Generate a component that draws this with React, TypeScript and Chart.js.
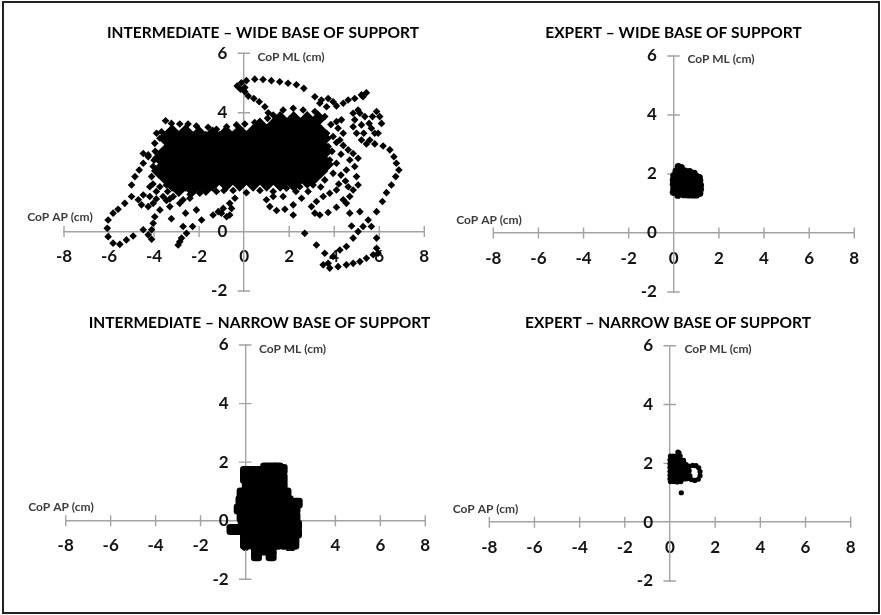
import React, { useEffect, useRef } from "react";
import { Chart, registerables } from "chart.js";

Chart.register(...registerables);

type P = [number, number];

const xTicks = [-8, -6, -4, -2, 0, 2, 4, 6, 8];
const yTicks = [-2, 0, 2, 4, 6];
const xAxisName = "CoP AP (cm)";
const yAxisName = "CoP ML (cm)";

const titles = [
  "INTERMEDIATE – WIDE BASE OF SUPPORT",
  "EXPERT – WIDE BASE OF SUPPORT",
  "INTERMEDIATE – NARROW BASE OF SUPPORT",
  "EXPERT – NARROW BASE OF SUPPORT",
];

// Intermediate, wide: the dense centre of the sway cloud
const intermediateWideCore: P[] = [
  [1.6,3.8],[2.2,3.8],[2.8,3.8],[3.3,3.8],
  [0.7,3.58],[1.3,3.58],[1.9,3.58],[2.5,3.58],[3.1,3.58],
  [-3.2,3.36],[-2.6,3.36],[-2,3.3],[-1.4,3.28],[-0.8,3.32],[-0.2,3.36],[0.4,3.36],[1,3.36],[1.6,3.36],[2.2,3.36],[2.8,3.36],[3.4,3.36],
  [-3.5,3.14],[-2.9,3.14],[-2.3,3.14],[-1.7,3.14],[-1.1,3.14],[-0.5,3.14],[0.1,3.14],[0.7,3.14],[1.3,3.14],[1.9,3.14],[2.5,3.14],[3.1,3.14],[3.55,3.14],
  [-3.2,2.92],[-2.6,2.92],[-2,2.92],[-1.4,2.92],[-0.8,2.92],[-0.2,2.92],[0.4,2.92],[1,2.92],[1.6,2.92],[2.2,2.92],[2.8,2.92],[3.4,2.92],
  [-3.5,2.7],[-2.9,2.7],[-2.3,2.7],[-1.7,2.7],[-1.1,2.7],[-0.5,2.7],[0.1,2.7],[0.7,2.7],[1.3,2.7],[1.9,2.7],[2.5,2.7],[3.1,2.7],[3.6,2.7],
  [-3.75,2.48],[-3.2,2.48],[-2.6,2.48],[-2,2.48],[-1.4,2.48],[-0.8,2.48],[-0.2,2.48],[0.4,2.48],[1,2.48],[1.6,2.48],[2.2,2.48],[2.8,2.48],[3.4,2.48],
  [-3.5,2.26],[-2.9,2.26],[-2.3,2.26],[-1.7,2.26],[-1.1,2.26],[-0.5,2.26],[0.1,2.26],[0.7,2.26],[1.3,2.26],[1.9,2.26],[2.5,2.26],[3.1,2.26],[3.65,2.26],
  [-3.8,2.04],[-3.2,2.04],[-2.6,2.04],[-2,2.04],[-1.4,2.04],[-0.8,2.04],[-0.2,2.04],[0.4,2.04],[1,2.04],[1.6,2.04],[2.2,2.04],[2.8,2.04],[3.4,2.04],
  [-3.5,1.82],[-2.9,1.82],[-2.3,1.82],[-1.7,1.82],[-1.1,1.82],[-0.5,1.82],[0.1,1.82],[0.7,1.82],[1.3,1.82],[1.9,1.82],[2.5,1.82],[3.1,1.82],
  [-3.2,1.6],[-2.6,1.6],[-2,1.6],[-1.4,1.6],[-0.8,1.6],[-0.2,1.6],[0.4,1.6],[1,1.6],[1.6,1.6],[2.2,1.6],[2.8,1.7],
  [-2.9,1.42],[-2.3,1.42],[-1.7,1.45],
];

// Intermediate, wide: separate points and loops around the cloud
const intermediateWideTrail: P[] = [
  [-0.31,4.9],[-0.12,5.01],[0.1,5.08],[0.47,5.13],[0.84,5.12],[1.21,5.08],[1.58,5.04],[1.95,4.99],[2.32,4.94],[2.65,4.82],
  [-0.16,4.79],[0.03,4.71],[0.03,4.85],[0.18,4.56],[0.43,4.48],[0.67,4.37],[0.92,4.2],[1.07,4],[1.04,3.81],
  [5.43,4.67],[5.28,4.54],[5.21,4.6],[4.91,4.48],[4.62,4.43],[4.4,4.32],[4.1,4.23],
  [3.73,4.48],[3.43,4.43],[3.14,4.54],[3.36,4.32],[3.95,4.37],[3.66,4.2],
  [4.1,3.7],[4.32,3.76],[4.17,3.48],[3.95,3.2],[4.25,3.08],[4.4,3.31],[4.62,2.75],[4.84,2.63],[4.69,2.41],[5.06,2.47],[4.91,2.19],[4.54,2.07],
  [5.14,3.98],[4.91,3.76],[4.84,3.53],[4.99,3.31],[5.21,3.08],[5.31,3.31],[5.21,3.59],[5.36,3.87],[5.06,4.09],[4.84,3.98],
  [5.88,4.04],[5.7,3.87],[5.55,3.64],[5.65,3.48],[5.8,3.31],[5.58,3.08],[6.1,3.64],[6.02,3.87],[5.95,3.31],
  [5.43,2.95],[5.8,2.95],[6.17,2.88],[6.47,2.75],[6.65,2.52],[6.76,2.3],[6.87,2.07],[6.73,1.85],[6.54,1.57],[6.32,1.31],[6.14,1.01],[5.88,0.67],[5.51,0.39],[5.65,0.17],[5.88,-0.22],[5.88,-0.56],[5.95,-0.73],
  [5.73,-0.78],[5.43,-0.9],[5.14,-1.01],[4.84,-1.07],[4.54,-1.12],[4.17,-1.18],[3.8,-1.23],[3.51,-1.12],[3.73,-1.07],[3.95,-0.84],[3.58,-0.73],[3.21,-0.45],[4.25,-0.62],[4.54,-0.5],[4.84,-0.22],[5.06,0],[4.77,0.19],[5.28,0.17],[4.69,0.62],[5.14,0.67],[4.54,0.95],[4.69,1.18],[4.84,1.4],[5.06,1.57],[4.62,1.51],[4.99,1.85],
  [3.14,0.62],[2.99,0.84],[3.21,1.01],[3.51,1.18],[3.8,1.29],[4.1,1.4],[3.36,0.56],[3.73,0.64],[4.1,0.82],[4.4,1.07],
  [0.99,1.07],[1.14,0.84],[1.44,0.71],[1.81,0.75],[2.18,0.9],[2.55,1.12],[2.84,1.35],[2.18,0.56],[2.69,-0.06],[1.29,1.18],[1.73,1.18],
  [-6.04,0.39],[-6.08,0.11],[-6.04,-0.17],[-5.82,-0.39],[-5.52,-0.43],[-5.23,-0.28],[-4.93,-0.15],[-4.48,0.06],[-4.26,-0.11],[-4.11,-0.26],[-4.11,0.06],[-4.04,0.28],[-3.97,0.5],
  [-5.82,0.62],[-5.6,0.75],[-5.3,0.95],[-5,1.18],[-5,1.57],[-4.85,1.85],[-4.66,2.07],[-4.48,2.3],[-4.48,2.63],[-4.26,2.52],
  [-4.7,1.07],[-4.56,0.9],[-4.26,0.84],[-4.04,0.95],[-4.19,1.18],[-4.48,1.23],[-3.74,0.73],[-3.3,0.84],[-2.86,0.95],[-2.41,1.12],[-3.45,1.05],[-3.9,1.1],
  [-3.23,0.43],[-2.6,0.62],[-2.12,0.73],[-1.89,0.39],[-1.38,0.56],[-2.71,0.17],[-2.29,0.17],[-2.56,-0.06],[-2.78,-0.22],[-2.93,-0.45],[-2.86,-0.34],
  [-1.15,0.67],[-0.93,0.78],[-0.64,0.56],[-0.78,0.5],[-1.01,0.62],[-0.64,0.95],[-0.41,1.12],[-0.56,0.78],
  [-3.49,3.73],[-3.23,3.64],[-3.89,3.31],[-3.67,3.36],[-2.86,3.62],[-2.49,3.62],[-2.12,3.55],[-1.6,3.51],[-1.23,3.44],[-0.78,3.53],[-0.34,3.59],[0.03,3.62],[0.47,3.67],
  [-4.26,2.58],[-4.04,2.19],[-4.11,1.85],[-4.19,1.51],[-3.97,2.97],[-3.74,3.14],[-3.74,1.51],[-3.45,1.57],[-3.6,1.18],[-3.15,1.18],[-2.71,1.07],
  [-1.97,1.29],[-1.23,1.35],[-0.49,1.38],[0.1,1.31],[0.7,1.38],[1.29,1.35],[1.88,1.46],[2.47,1.51],[3.06,1.57],[3.58,1.74],[3.95,1.96],[3.8,2.41],[3.73,2.86],[3.66,3.31],[3.58,3.87],
  [3.14,4.04],[2.62,4.09],[2.18,4.15],[1.73,4.09],[1.29,3.92],
  [3.9,2.7],[4.1,2.3],[4.3,2.6],[4.1,3.0],[3.85,3.6],[4.4,2.9],[4.3,1.9],[4.5,1.7],[4.2,1.6],
  [-4,2.4],[-4.05,1.6],[-3.9,1.35],[-3.4,1.35],[-3.95,2.7],[-3.3,1.1],[-2.4,1.25],[-0.9,1.38],[2.3,1.35],[3.4,1.5],
];

const expertWide: P[] = [
  [0.2,2.25],[0.33,2.22],
  [0.1,2.1],[0.3,2.1],[0.5,2.1],[0.7,2.08],[0.9,2.02],
  [0,1.95],[0.2,1.95],[0.4,1.95],[0.6,1.95],[0.8,1.95],[1,1.92],[1.13,1.88],
  [-0.02,1.8],[0.18,1.8],[0.38,1.8],[0.58,1.8],[0.78,1.8],[0.98,1.8],[1.15,1.78],
  [-0.02,1.65],[0.18,1.65],[0.38,1.65],[0.58,1.65],[0.78,1.65],[0.98,1.65],[1.18,1.62],
  [0,1.5],[0.2,1.5],[0.4,1.5],[0.6,1.5],[0.8,1.5],[1,1.5],[1.18,1.48],
  [-0.02,1.38],[0.2,1.38],[0.42,1.38],[0.64,1.38],[0.86,1.38],[1.05,1.38],[1.15,1.35],
  [0.18,1.28],[0.45,1.3],[0.65,1.29],[0.85,1.29],[1,1.29],
];

const intermediateNarrow: P[] = [
  [0.9,1.8],[1.2,1.8],[1.45,1.8],[1.63,1.75],
  [0,1.68],[0.3,1.68],[0.6,1.68],[0.9,1.68],
  [0,1.45],[0.35,1.45],[0.7,1.45],[1.05,1.45],[1.4,1.45],[1.63,1.45],
  [0.08,1.18],[0.4,1.2],[0.75,1.2],[1.1,1.2],[1.45,1.2],[1.63,1.2],
  [-0.15,0.95],[0.2,0.95],[0.55,0.95],[0.9,0.95],[1.25,0.95],[1.6,0.95],[1.8,0.95],
  [-0.2,0.68],[0.15,0.68],[0.5,0.68],[0.85,0.68],[1.2,0.68],[1.55,0.68],[1.9,0.68],[2.3,0.6],
  [-0.28,0.4],[0.1,0.4],[0.45,0.4],[0.8,0.4],[1.15,0.4],[1.5,0.4],[1.85,0.4],[2.2,0.4],
  [-0.15,0.12],[0.2,0.12],[0.55,0.12],[0.9,0.12],[1.25,0.12],[1.6,0.12],[1.95,0.12],[2.2,0.12],
  [-0.1,-0.15],[0.25,-0.15],[0.6,-0.15],[0.95,-0.15],[1.3,-0.15],[1.65,-0.15],[2,-0.15],[2.27,-0.15],
  [-0.6,-0.3],[-0.35,-0.3],
  [0,-0.42],[0.35,-0.42],[0.7,-0.42],[1.05,-0.42],[1.4,-0.42],[1.75,-0.42],[2.1,-0.42],[2.27,-0.42],
  [0,-0.62],[0.35,-0.62],[0.7,-0.62],[1.05,-0.62],[1.4,-0.62],[1.75,-0.62],[2.15,-0.62],
  [0,-0.8],[0.35,-0.8],[0.7,-0.8],[1.05,-0.8],[1.4,-0.8],[1.75,-0.8],[2.15,-0.8],
  [0.49,-1],[0.8,-1],[1.14,-1],
  [0.49,-1.2],[1.14,-1.2],
];

const expertNarrow: P[] = [
  [0.35,2.38],[0.4,2.36],
  [0.02,2.25],[0.15,2.25],[0.3,2.25],[0.45,2.25],
  [0,2.12],[0.16,2.12],[0.32,2.12],[0.48,2.12],[0.6,2.1],
  [0,1.99],[0.16,1.99],[0.32,1.99],[0.48,1.99],[0.64,1.99],[0.72,1.96],
  [0,1.86],[0.16,1.86],[0.32,1.86],[0.48,1.86],[0.64,1.86],[0.75,1.86],
  [0,1.73],[0.16,1.73],[0.32,1.73],[0.48,1.73],[0.64,1.73],[0.75,1.73],
  [0,1.6],[0.16,1.6],[0.32,1.6],[0.48,1.6],[0.64,1.6],[0.75,1.6],
  [0,1.47],[0.16,1.47],[0.32,1.47],[0.48,1.47],[0.64,1.47],[0.75,1.48],
  [0.02,1.38],[0.16,1.38],[0.32,1.37],[0.48,1.38],
  [0.85,1.9],[1,1.93],[1.15,1.92],[1.27,1.85],[1.33,1.72],[1.33,1.58],[1.25,1.46],[1.1,1.42],[0.95,1.45],[0.88,1.58],[0.85,1.75],
  [0.5,1],
];

const seriesSets = [
  [
    { data: intermediateWideCore, style: "rectRot", radius: 7.6 },
    { data: intermediateWideTrail, style: "rectRot", radius: 3.8 },
  ],
  [{ data: expertWide, style: "circle", radius: 3.6 }],
  [{ data: intermediateNarrow, style: "rectRounded", radius: 6.4 }],
  [{ data: expertNarrow, style: "circle", radius: 2.6 }],
];

// Pixel layout of each panel on the page
const layouts = [
  { left: 6, top: 10, width: 432, height: 292, xMin: 64, xMax: 424.3, yTop: 53.3, yBottom: 291, titleX: 263, titleY: 33.3, apX: 60, apY: 217, mlX: 291, mlY: 57.3 },
  { left: 440, top: 10, width: 434, height: 292, xMin: 493.3, xMax: 854.3, yTop: 56, yBottom: 292, titleX: 673.5, titleY: 33, apX: 489, apY: 220, mlX: 721, mlY: 59 },
  { left: 6, top: 305, width: 432, height: 292, xMin: 65.7, xMax: 425.3, yTop: 345, yBottom: 579.3, titleX: 259.5, titleY: 323, apX: 61, apY: 507, mlX: 292.5, mlY: 349 },
  { left: 440, top: 305, width: 434, height: 292, xMin: 489.3, xMax: 850.7, yTop: 345.7, yBottom: 581, titleX: 668, titleY: 323, apX: 485.5, apY: 508.7, mlX: 718, mlY: 349 },
];

const AXIS_COLOR = "#a3a3a3";
const TEXT_COLOR = "#141414";
const FONT = "Lato";
const TITLE_SIZE = 15.5;
const Y_LABEL_AXIS_X = -0.75;

const collapseX = (s: any) => {
  s.height = 0;
  s.paddingLeft = 0;
  s.paddingRight = 0;
};
const collapseY = (s: any) => {
  s.width = 0;
  s.paddingTop = 0;
  s.paddingBottom = 0;
};

function Panel({ index }: { index: number }) {
  const ref = useRef<HTMLCanvasElement>(null);
  const l = layouts[index];

  useEffect(() => {
    const lineH = TITLE_SIZE * 1.2;
    const titleTop = l.titleY - l.top - lineH / 2;
    const titleBottom = l.yTop - l.titleY - lineH / 2;
    const panelPlugin = {
      id: "panelExtras",
      afterLayout(chart: any) {
        const dx = l.titleX - (l.xMin + l.xMax) / 2;
        chart.titleBlock.left += dx;
        chart.titleBlock.right += dx;
      },
      beforeDatasetsDraw(chart: any) {
        const { ctx, scales } = chart;
        const x0 = scales.x.getPixelForValue(0);
        const y0 = scales.y.getPixelForValue(0);
        ctx.save();
        ctx.strokeStyle = AXIS_COLOR;
        ctx.lineWidth = 1.4;
        ctx.beginPath();
        xTicks.forEach((t) => {
          if (t === 0) return;
          const px = scales.x.getPixelForValue(t);
          ctx.moveTo(px, y0 - 5.5);
          ctx.lineTo(px, y0 + 5.5);
        });
        yTicks.forEach((t) => {
          if (t === 0) return;
          const py = scales.y.getPixelForValue(t);
          ctx.moveTo(x0 - 6.5, py);
          ctx.lineTo(x0 + 6, py);
        });
        ctx.stroke();
        ctx.fillStyle = "#3c3c3c";
        ctx.font = `bold 12px ${FONT}`;
        ctx.textAlign = "center";
        ctx.textBaseline = "middle";
        ctx.fillText(xAxisName, l.apX - l.left, l.apY - l.top);
        ctx.fillText(yAxisName, l.mlX - l.left, l.mlY - l.top);
        ctx.restore();
      },
    };

    const yBuild = (s: any) => {
      s.ticks = yTicks.map((value) => ({ value }));
    };

    const chart = new Chart(ref.current!, {
      type: "scatter",
      data: {
        datasets: seriesSets[index].map((s) => ({
          data: s.data.map(([x, y]) => ({ x, y })),
          pointStyle: s.style,
          pointRadius: s.radius,
          pointBackgroundColor: "#000",
          pointBorderWidth: 0,
        })),
      },
      options: {
        animation: false,
        responsive: false,
        events: [],
        layout: {
          padding: {
            left: l.xMin - l.left,
            right: l.left + l.width - l.xMax,
            top: 0,
            bottom: l.top + l.height - l.yBottom,
          },
        },
        plugins: {
          legend: { display: false },
          tooltip: { enabled: false },
          title: {
            display: true,
            text: titles[index],
            color: "#000",
            font: { family: FONT, size: TITLE_SIZE, weight: "bold", lineHeight: 1.2 },
            padding: { top: titleTop, bottom: titleBottom },
          },
        },
        scales: {
          x: {
            type: "linear",
            min: -8,
            max: 8,
            position: { y: 0 },
            afterBuildTicks: (s: any) => {
              s.ticks = xTicks.map((value) => ({ value }));
            },
            afterFit: collapseX,
            border: { color: AXIS_COLOR, width: 1.4 },
            grid: { drawOnChartArea: false, drawTicks: false },
            ticks: {
              color: TEXT_COLOR,
              padding: 15,
              autoSkip: false,
              maxRotation: 0,
              font: { family: FONT, size: 17, weight: "bold" },
            },
          },
          y: {
            type: "linear",
            min: -2,
            max: 6,
            position: { x: Y_LABEL_AXIS_X },
            afterBuildTicks: yBuild,
            afterFit: collapseY,
            border: { display: false },
            grid: { drawOnChartArea: false, drawTicks: false },
            ticks: {
              color: TEXT_COLOR,
              autoSkip: false,
              font: { family: FONT, size: 17, weight: "bold" },
            },
          },
          yLine: {
            type: "linear",
            min: -2,
            max: 6,
            position: { x: 0 },
            afterBuildTicks: yBuild,
            afterFit: collapseY,
            border: { color: AXIS_COLOR, width: 1.4 },
            grid: { drawOnChartArea: false, drawTicks: false },
            ticks: { display: false },
          },
        },
      } as any,
      plugins: [panelPlugin],
    } as any);
    return () => chart.destroy();
  }, []);

  return (
    <canvas
      ref={ref}
      width={l.width}
      height={l.height}
      style={{ position: "absolute", left: l.left, top: l.top, width: l.width, height: l.height, filter: "blur(0.3px)" }}
    />
  );
}

export default function App() {
  return (
    <div style={{ position: "fixed", left: 0, top: 0, width: 881, height: 615, background: "#fff", overflow: "hidden" }}>
      <div
        style={{
          position: "absolute",
          left: 2,
          top: 1,
          width: 878,
          height: 613,
          boxSizing: "border-box",
          border: "2px solid #222",
        }}
      />
      {layouts.map((_, i) => (
        <Panel key={i} index={i} />
      ))}
    </div>
  );
}
